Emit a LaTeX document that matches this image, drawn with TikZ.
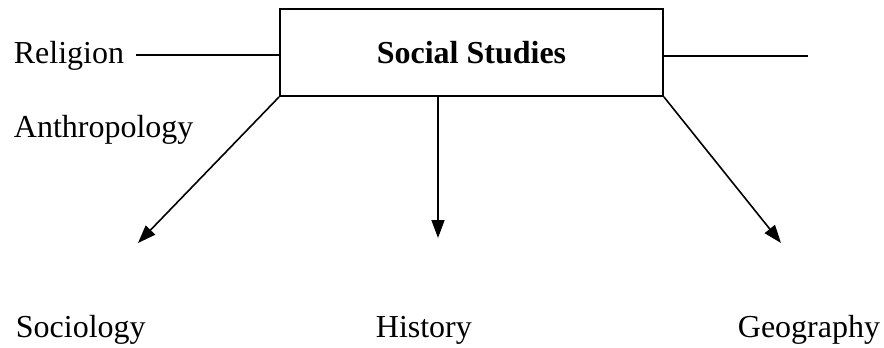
\documentclass[tikz,border=0pt]{standalone}
\usepackage{fontspec}
\setmainfont{Liberation Serif}
\usetikzlibrary{arrows.meta}
\tikzset{
  lbl/.style={anchor=base west,inner sep=0pt,font=\fontsize{16}{19}\selectfont},
  topic/.style={draw,line width=0.9pt,minimum width=191.5pt,minimum height=43.5pt,inner sep=0pt,font=\fontsize{16}{19}\selectfont\bfseries},
  arr/.style={line width=0.8pt,-{Triangle[length=9pt,width=6.5pt]}}
}
\begin{document}
\begin{tikzpicture}[x=0.5pt,y=-0.5pt,line width=0.9pt]
\useasboundingbox (0,0) rectangle (884,348);
\node[topic] (social) at (471.5,52.5) {Social Studies};
\node[lbl] (religion) at (13,63) {Religion};
\node[lbl] (anthro) at (13,137) {Anthropology};
\node[lbl] (socio) at (15,337) {Sociology};
\node[lbl] (hist) at (375,337) {History};
\node[lbl] (geo) at (737,337) {Geography};
\coordinate (rend) at (808,56);
\coordinate (sociotip) at (138,243);
\coordinate (histtip) at (438,238);
\coordinate (geotip) at (781,243);
\draw ([xshift=5.5pt]religion.east) -- (religion.east -| social.west);
\draw (social.east |- rend) -- (rend);
\draw[arr] (social.south west) -- (sociotip);
\draw[arr] (histtip |- social.south) -- (histtip);
\draw[arr] (social.south east) -- (geotip);
\end{tikzpicture}
\end{document}
